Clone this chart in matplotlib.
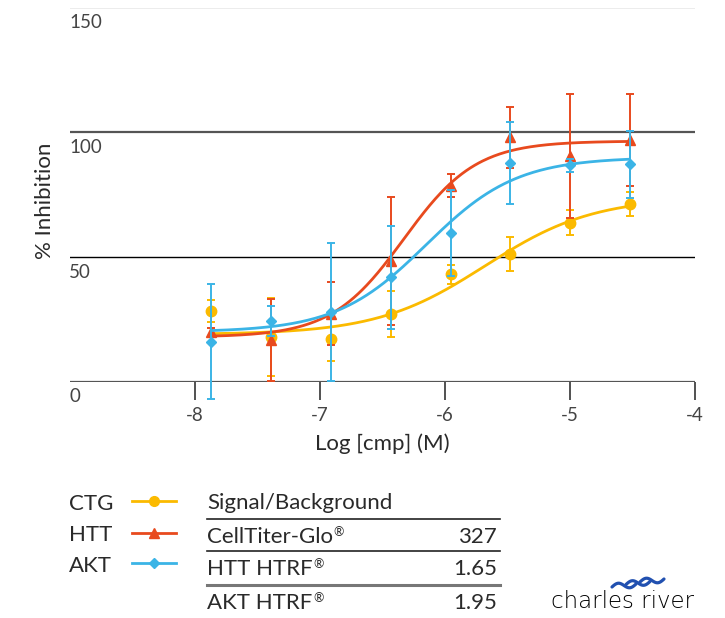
import numpy as np
import matplotlib
matplotlib.use("Agg")
import matplotlib.pyplot as plt

plt.rcParams['font.family'] = ['Lato', 'DejaVu Sans']
plt.rcParams['axes.unicode_minus'] = False

# values
log_conc = [-7.87, -7.39, -6.91, -6.43, -5.95, -5.48, -5.00, -4.52]

ctg_mean = [28.5, 18.1, 17.1, 27.2, 43.1, 51.2, 63.7, 71.2]
ctg_err = [4.3, 15.7, 8.7, 9.2, 3.9, 6.9, 5.0, 4.8]
htt_mean = [20.1, 16.8, 27.3, 48.3, 78.6, 98.1, 90.5, 97.0]
htt_err = [1.5, 16.4, 12.6, 25.6, 4.7, 12.2, 25.0, 18.4]
akt_mean = [16.1, 24.5, 28.1, 41.9, 59.7, 87.7, 86.8, 87.2]
akt_err = [23.0, 6.0, 27.6, 20.5, 17.3, 16.6, 2.5, 13.4]

# 4PL fit: bottom, top, logEC50, hill
ctg_fit = [19.0, 74.0, -5.68, 1.0]
htt_fit = [18.0, 96.5, -6.33, 1.5]
akt_fit = [20.0, 90.0, -6.15, 1.2]

y_ticks = [0, 50, 100, 150]
x_ticks = [-8, -7, -6, -5, -4]

series_names = ["CTG", "HTT", "AKT"]
table_header = "Signal/Background"
table_rows = ["CellTiter-Glo", "HTT HTRF", "AKT HTRF"]
table_values = ["327", "1.65", "1.95"]

colors = ["#FBBA00", "#E84A1E", "#3BB4E6"]
markers = ["o", "^", "D"]
msizes = [7.5, 7.5, 5.5]
text_col = "#2a2a2a"


def four_pl(x, p):
    bottom, top, ec, hill = p
    return bottom + (top - bottom) / (1 + 10 ** ((ec - x) * hill))


fig = plt.figure(figsize=(7.25, 6.18), dpi=100)
W, H = 725.0, 618.0
ax = fig.add_axes([70 / W, (H - 382) / H, 625 / W, 374.5 / H])
ax.set_xlim(-9, -4)
ax.set_ylim(0, 150)
for s in ax.spines.values():
    s.set_visible(False)

# horizontal rules with labels under them
for v in y_ticks:
    if v == 50:
        ax.axhline(v, color="black", lw=1.0, zorder=1)
    else:
        ax.axhline(v, color="#555555", lw=1.6, zorder=1)
    ax.annotate(str(v), xy=(0, v), xycoords=("axes fraction", "data"),
                xytext=(-1, -15), textcoords="offset pixels",
                ha="left", va="center", fontsize=13.5, color="#444444")
ax.set_yticks([])

ax.set_xticks(x_ticks)
ax.set_xticklabels([str(t) for t in x_ticks], fontsize=13.5, color="#444444")
ax.tick_params(axis="x", direction="out", length=13, width=1.1, color="#222222", pad=5)

curve_x = np.linspace(log_conc[0], log_conc[-1], 300)
means = [ctg_mean, htt_mean, akt_mean]
errs = [ctg_err, htt_err, akt_err]
fits = [ctg_fit, htt_fit, akt_fit]
for i in range(3):
    ax.errorbar(log_conc, means[i], yerr=errs[i], fmt=markers[i], color=colors[i],
                ms=msizes[i], elinewidth=1.4, capsize=3.2, capthick=1.4,
                clip_on=False, zorder=3 + i)
    ax.plot(curve_x, four_pl(curve_x, fits[i]), color=colors[i], lw=2.0,
            zorder=3 + i, solid_capstyle="butt")

fig.text(45 / W, 1 - 201 / H, "% Inhibition", rotation=90, ha="center", va="center",
         fontsize=16, color=text_col)
fig.text(382 / W, 1 - 450 / H, "Log [cmp] (M)", ha="center", va="baseline",
         fontsize=16, color=text_col)

# bottom block: legend, table and logo, drawn in pixel coordinates
bx = fig.add_axes([0, 0, 1, 1], zorder=-1)
bx.set_xlim(0, W)
bx.set_ylim(H, 0)
bx.axis("off")

legend_base = [510, 541, 572]
legend_line = [501, 533, 563]
for i, name in enumerate(series_names):
    bx.text(69, legend_base[i], name, ha="left", va="baseline", fontsize=16, color=text_col)
    bx.plot([132, 176], [legend_line[i]] * 2, color=colors[i], lw=2.0)
    bx.plot([154], [legend_line[i]], marker=markers[i], color=colors[i], ms=msizes[i] - 0.5)

bx.text(207, 509, table_header, ha="left", va="baseline", fontsize=16, color=text_col)
row_base = [543, 575, 609]
rule_y = [518.5, 551, 585]
for i in range(3):
    t = bx.text(207, row_base[i], table_rows[i], ha="left", va="baseline",
                fontsize=16, color=text_col)
    bx.annotate("\u00ae", xy=(1, 0.45), xycoords=t, xytext=(0.5, 0),
                textcoords="offset points", ha="left", va="bottom",
                fontsize=9, color=text_col)
    bx.text(497, row_base[i], table_values[i], ha="right", va="baseline",
            fontsize=16, color=text_col)
for i, y in enumerate(rule_y):
    if i == 2:
        bx.plot([207, 500], [y, y], color="#777777", lw=2.2)
    else:
        bx.plot([207, 500], [y, y], color="#222222", lw=1.2)

# charles river logo
bx.text(551, 608, "charles river", ha="left", va="baseline", fontsize=16.5,
        family="DejaVu Sans", fontweight="light", color="black")
wx = np.linspace(0, 1, 40)
for k, (x0, y0) in enumerate([(612, 587), (626, 584.5), (640, 582)]):
    bx.plot(x0 + 24 * wx, y0 - 3.0 * np.sin(2 * np.pi * wx) - 3 * wx,
            color="#2150B0", lw=2.3, solid_capstyle="round")

fig.savefig("out.png", dpi=100)
